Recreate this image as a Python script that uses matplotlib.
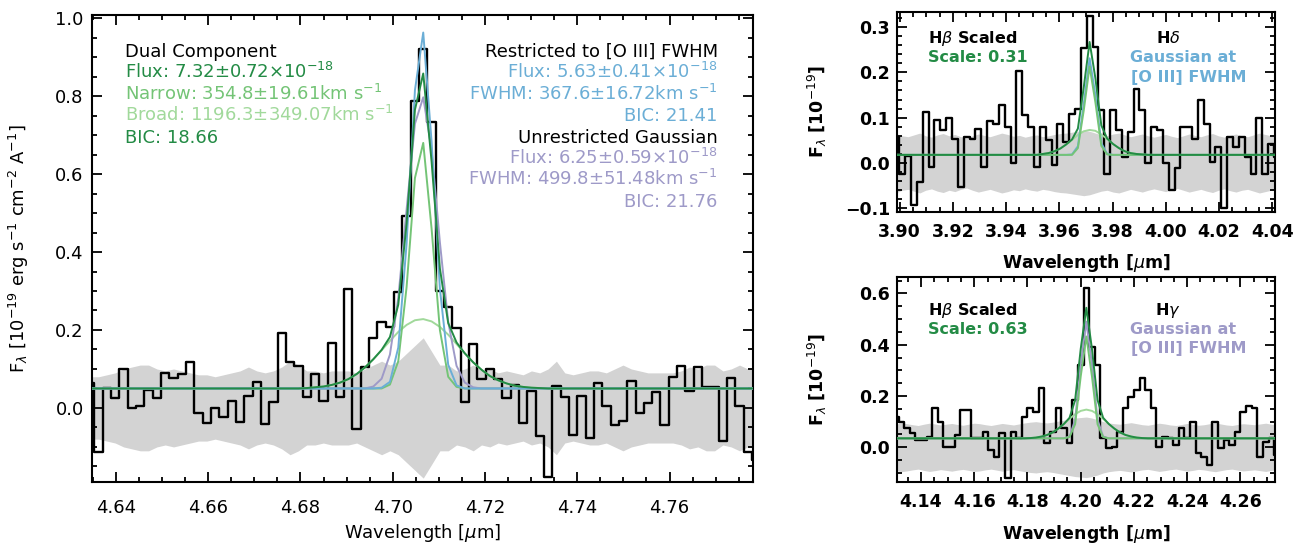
import numpy as np
import matplotlib.pyplot as plt
from matplotlib.ticker import MultipleLocator, FuncFormatter

# colours
c_dark = '#238b45'
c_mid = '#74c476'
c_light = '#a1d99b'
c_blue = '#6baed6'
c_purple = '#9e9ac8'
c_band = '#d3d3d3'

# ---------------- H-beta (left panel) ----------------
wave_hb = [4.63444, 4.63624, 4.63804, 4.63985, 4.64165, 4.64346, 4.64526, 4.64707, 4.64887, 4.65068,
           4.65248, 4.65428, 4.65609, 4.65789, 4.65970, 4.66150, 4.66331, 4.66511, 4.66691, 4.66872,
           4.67052, 4.67233, 4.67413, 4.67594, 4.67774, 4.67955, 4.68135, 4.68315, 4.68496, 4.68676,
           4.68857, 4.69037, 4.69218, 4.69398, 4.69579, 4.69759, 4.69939, 4.70120, 4.70300, 4.70481,
           4.70661, 4.70842, 4.71022, 4.71202, 4.71383, 4.71563, 4.71744, 4.71924, 4.72105, 4.72285,
           4.72466, 4.72646, 4.72826, 4.73007, 4.73187, 4.73368, 4.73548, 4.73729, 4.73909, 4.74090,
           4.74270, 4.74450, 4.74631, 4.74811, 4.74992, 4.75172, 4.75353, 4.75533, 4.75713, 4.75894,
           4.76074, 4.76255, 4.76435, 4.76616, 4.76796, 4.76977, 4.77157, 4.77337, 4.77518, 4.77698,
           4.77879]
flux_hb = [0.063, -0.112, 0.050, 0.026, 0.100, -0.001, 0.005, 0.046, 0.025, 0.090,
           0.078, 0.087, 0.119, -0.014, -0.038, -0.001, -0.024, 0.018, -0.035, 0.031,
           0.067, -0.042, 0.015, 0.193, 0.117, 0.108, 0.027, 0.087, 0.018, 0.167,
           0.028, 0.305, -0.055, 0.106, 0.179, 0.221, 0.208, 0.298, 0.492, 0.788,
           0.922, 0.734, 0.301, 0.260, 0.204, 0.015, 0.164, 0.074, 0.100, 0.074,
           0.025, 0.059, -0.039, 0.044, -0.071, -0.176, 0.057, 0.029, -0.069, 0.031,
           -0.076, 0.063, 0.005, -0.044, -0.033, 0.070, -0.012, 0.012, 0.042, -0.044,
           0.079, 0.108, 0.044, 0.105, 0.055, 0.053, -0.086, 0.076, 0.005, -0.112,
           -0.133]
err_hb = [0.080, 0.080, 0.085, 0.090, 0.100, 0.105, 0.110, 0.110, 0.100, 0.095,
          0.100, 0.095, 0.090, 0.085, 0.085, 0.080, 0.085, 0.090, 0.095, 0.105,
          0.095, 0.090, 0.095, 0.105, 0.120, 0.110, 0.095, 0.095, 0.090, 0.095,
          0.095, 0.095, 0.090, 0.100, 0.110, 0.120, 0.110, 0.120, 0.140, 0.160,
          0.180, 0.145, 0.110, 0.110, 0.095, 0.100, 0.110, 0.095, 0.100, 0.090,
          0.095, 0.090, 0.085, 0.095, 0.090, 0.100, 0.120, 0.090, 0.085, 0.090,
          0.095, 0.095, 0.090, 0.100, 0.110, 0.100, 0.095, 0.090, 0.090, 0.090,
          0.090, 0.095, 0.105, 0.100, 0.110, 0.110, 0.095, 0.100, 0.110, 0.100,
          0.100]
cont_hb = 0.05
win_hb = 25  # first array index where the fit curves leave the continuum list
dual_hb = [0.050, 0.051, 0.053, 0.055, 0.059, 0.065, 0.074, 0.087, 0.104, 0.125,
           0.149, 0.182, 0.265, 0.473, 0.765, 0.858, 0.632, 0.358, 0.218, 0.168,
           0.140, 0.117, 0.098, 0.082, 0.071, 0.063, 0.057, 0.054, 0.052, 0.051]
narrow_hb = [0.05] * 11 + [0.060, 0.120, 0.310, 0.590, 0.680, 0.460, 0.200, 0.080, 0.054] + [0.05] * 10
broad_hb = [0.050, 0.051, 0.053, 0.055, 0.059, 0.065, 0.074, 0.087, 0.104, 0.125,
            0.148, 0.172, 0.195, 0.213, 0.225, 0.228, 0.222, 0.208, 0.188, 0.164,
            0.140, 0.117, 0.098, 0.082, 0.071, 0.063, 0.057, 0.054, 0.052, 0.051]
restr_hb = [0.05] * 10 + [0.052, 0.067, 0.155, 0.421, 0.815, 0.963, 0.683, 0.306, 0.111, 0.058] + [0.05] * 10
unres_hb = [0.05] * 9 + [0.055, 0.075, 0.137, 0.282, 0.509, 0.729, 0.797, 0.662, 0.425, 0.221,
                         0.108, 0.065, 0.053] + [0.05] * 8

# ---------------- H-delta (top right) ----------------
wave_hd = [3.89875, 3.90095, 3.90315, 3.90535, 3.90755, 3.90975, 3.91195, 3.91415, 3.91635, 3.91855,
           3.92075, 3.92295, 3.92515, 3.92735, 3.92955, 3.93175, 3.93395, 3.93615, 3.93835, 3.94055,
           3.94275, 3.94495, 3.94715, 3.94935, 3.95155, 3.95375, 3.95595, 3.95815, 3.96035, 3.96255,
           3.96475, 3.96695, 3.96915, 3.97135, 3.97355, 3.97575, 3.97795, 3.98015, 3.98235, 3.98455,
           3.98675, 3.98895, 3.99115, 3.99335, 3.99555, 3.99775, 3.99995, 4.00215, 4.00435, 4.00655,
           4.00875, 4.01095, 4.01315, 4.01535, 4.01755, 4.01975, 4.02195, 4.02415, 4.02635, 4.02855,
           4.03075, 4.03295, 4.03515, 4.03735, 4.03955, 4.04175]
flux_hd = [0.057, -0.024, 0.015, -0.093, -0.042, 0.113, -0.009, 0.094, 0.072, 0.100,
           0.054, -0.053, 0.057, 0.052, 0.076, -0.009, 0.093, 0.087, 0.127, 0.079,
           -0.001, 0.202, 0.105, 0.080, -0.009, 0.080, 0.050, -0.005, 0.087, 0.046,
           0.109, 0.120, 0.254, 0.324, 0.256, 0.116, -0.024, 0.116, 0.072, 0.013,
           0.068, 0.164, 0.116, -0.001, 0.079, 0.072, 0.000, -0.060, -0.010, 0.079,
           0.080, 0.054, 0.138, 0.087, 0.002, 0.035, -0.100, 0.057, 0.035, 0.057,
           0.013, -0.024, 0.100, -0.024, 0.043, 0.013]
err_hd = [0.065, 0.060, 0.058, 0.062, 0.066, 0.060, 0.057, 0.062, 0.065, 0.060,
          0.063, 0.058, 0.055, 0.060, 0.064, 0.061, 0.058, 0.062, 0.066, 0.063,
          0.059, 0.061, 0.057, 0.060, 0.062, 0.058, 0.060, 0.063, 0.065, 0.066,
          0.068, 0.070, 0.072, 0.070, 0.066, 0.062, 0.060, 0.064, 0.066, 0.062,
          0.058, 0.061, 0.064, 0.060, 0.057, 0.060, 0.063, 0.059, 0.056, 0.060,
          0.064, 0.061, 0.058, 0.062, 0.065, 0.060, 0.057, 0.061, 0.064, 0.060,
          0.058, 0.062, 0.066, 0.063, 0.060, 0.060]
cont_hd = 0.018
win_hd = 25
dual_hd = [0.020, 0.022, 0.026, 0.032, 0.041, 0.052, 0.076, 0.167, 0.267, 0.186,
           0.083, 0.054, 0.042, 0.033, 0.026, 0.022, 0.020, 0.019]
narrow_hd = [0.018] * 6 + [0.033, 0.116, 0.213, 0.133, 0.038, 0.019] + [0.018] * 6
broad_hd = [0.020, 0.022, 0.026, 0.032, 0.041, 0.051, 0.062, 0.070, 0.073, 0.071,
            0.063, 0.053, 0.042, 0.033, 0.026, 0.022, 0.020, 0.019]
gauss_hd = [0.018] * 5 + [0.019, 0.037, 0.130, 0.231, 0.149, 0.044, 0.020] + [0.018] * 6
scale_hd = '0.31'
xticks_hd = [3.90, 3.92, 3.94, 3.96, 3.98, 4.00, 4.02, 4.04]
yticks_hd = [-0.1, 0.0, 0.1, 0.2, 0.3]

# ---------------- H-gamma (bottom right) ----------------
wave_hg = [4.13052, 4.13263, 4.13473, 4.13684, 4.13894, 4.14105, 4.14316, 4.14526, 4.14737, 4.14947,
           4.15158, 4.15369, 4.15579, 4.15790, 4.16000, 4.16211, 4.16422, 4.16632, 4.16843, 4.17053,
           4.17264, 4.17475, 4.17685, 4.17896, 4.18106, 4.18317, 4.18528, 4.18738, 4.18949, 4.19159,
           4.19370, 4.19581, 4.19791, 4.20002, 4.20212, 4.20423, 4.20634, 4.20844, 4.21055, 4.21265,
           4.21476, 4.21687, 4.21897, 4.22108, 4.22318, 4.22529, 4.22740, 4.22950, 4.23161, 4.23371,
           4.23582, 4.23793, 4.24003, 4.24214, 4.24424, 4.24635, 4.24846, 4.25056, 4.25267, 4.25477,
           4.25688, 4.25899, 4.26109, 4.26320, 4.26530, 4.26741, 4.26952, 4.27162, 4.27373]
flux_hg = [0.119, 0.100, 0.074, 0.055, 0.029, 0.029, 0.042, 0.155, 0.100, 0.003,
           0.003, 0.048, 0.145, 0.145, 0.035, 0.035, 0.061, -0.010, -0.036, 0.055,
           -0.121, 0.061, 0.035, 0.119, 0.152, 0.139, 0.230, 0.016, 0.061, 0.152,
           0.074, 0.016, 0.184, 0.321, 0.619, 0.392, 0.321, 0.035, -0.004, 0.003,
           0.061, 0.152, 0.197, 0.223, 0.269, 0.223, 0.152, 0.003, 0.042, 0.035,
           0.009, 0.074, 0.035, 0.100, -0.023, -0.036, -0.069, 0.100, -0.004, 0.029,
           0.009, 0.061, 0.139, 0.161, 0.152, -0.036, 0.022, 0.035, -0.030]
err_hg = [0.090, 0.095, 0.092, 0.088, 0.085, 0.090, 0.094, 0.091, 0.087, 0.090,
          0.093, 0.089, 0.086, 0.090, 0.094, 0.092, 0.088, 0.085, 0.089, 0.093,
          0.090, 0.087, 0.091, 0.095, 0.098, 0.100, 0.097, 0.095, 0.098, 0.102,
          0.106, 0.110, 0.114, 0.116, 0.118, 0.114, 0.108, 0.100, 0.095, 0.092,
          0.090, 0.093, 0.096, 0.092, 0.088, 0.086, 0.090, 0.094, 0.091, 0.087,
          0.085, 0.089, 0.093, 0.090, 0.086, 0.088, 0.092, 0.095, 0.091, 0.087,
          0.085, 0.089, 0.092, 0.090, 0.088, 0.091, 0.094, 0.090, 0.087]
cont_hg = 0.035
win_hg = 24
dual_hg = [0.036, 0.038, 0.042, 0.048, 0.058, 0.073, 0.091, 0.115, 0.184, 0.384,
           0.544, 0.384, 0.184, 0.115, 0.091, 0.073, 0.058, 0.048, 0.042, 0.038, 0.036]
narrow_hg = [0.035] * 7 + [0.040, 0.090, 0.277, 0.432, 0.277, 0.090, 0.040] + [0.035] * 7
broad_hg = [0.036, 0.038, 0.042, 0.048, 0.058, 0.073, 0.091, 0.111, 0.129, 0.142,
            0.147, 0.142, 0.129, 0.111, 0.091, 0.073, 0.058, 0.048, 0.042, 0.038, 0.036]
gauss_hg = [0.035] * 7 + [0.042, 0.107, 0.322, 0.490, 0.322, 0.107, 0.042] + [0.035] * 7
scale_hg = '0.63'
xticks_hg = [4.14, 4.16, 4.18, 4.20, 4.22, 4.24, 4.26]
yticks_hg = [0.0, 0.2, 0.4, 0.6]


def fit_curve(n, start, win, cont):
    y = np.full(n, cont)
    y[start:start + len(win)] = win
    return y


def fmt_minus(fmt, v):
    return (fmt % v).replace('-', '\u2212')


def style(ax, xmin, ymin, size, xpad, ypad):
    ax.xaxis.set_minor_locator(MultipleLocator(xmin))
    ax.yaxis.set_minor_locator(MultipleLocator(ymin))
    ax.tick_params(which='both', direction='in', top=True, right=True, width=1.3)
    ax.tick_params(which='major', length=7.5, labelsize=size)
    ax.tick_params(which='minor', length=3.8)
    ax.tick_params(axis='x', pad=xpad)
    ax.tick_params(axis='y', pad=ypad)
    for s in ax.spines.values():
        s.set_linewidth(1.5)


def draw_spec(ax, wave, flux, err, curves, cont, start):
    w = np.array(wave)
    e = np.array(err)
    ax.fill_between(w, -e, e, color=c_band, lw=0, zorder=1)
    ax.step(w, flux, where='mid', color='k', lw=1.7, zorder=2)
    for win, col in curves:
        ax.plot(w, fit_curve(len(w), start, win, cont), color=col, lw=1.4, zorder=3)


fig = plt.figure(figsize=(13.01, 5.48), dpi=100)

# left panel
ax = fig.add_axes([0.0707, 0.1204, 0.5081, 0.8522])
draw_spec(ax, wave_hb, flux_hb, err_hb,
          [(broad_hb, c_light), (narrow_hb, c_mid), (unres_hb, c_purple),
           (restr_hb, c_blue), (dual_hb, c_dark)], cont_hb, win_hb)
ax.xaxis.set_major_locator(MultipleLocator(0.02))
ax.yaxis.set_major_locator(MultipleLocator(0.2))
ax.xaxis.set_major_formatter(FuncFormatter(lambda v, p: fmt_minus('%.2f', v)))
ax.yaxis.set_major_formatter(FuncFormatter(lambda v, p: fmt_minus('%.1f', v)))
ax.set_xlim(4.6348, 4.7781)
ax.set_ylim(-0.19, 1.008)
style(ax, 0.005, 0.05, 13, 12, 6)
ax.set_xlabel(r'Wavelength [$\mu$m]', fontsize=13)
ax.set_ylabel(r'F$_\lambda$ [10$^{-19}$ erg s$^{-1}$ cm$^{-2}$ A$^{-1}$]', fontsize=13)
ax.xaxis.set_label_coords(0.5, -0.085)
ax.yaxis.set_label_coords(-0.092, 0.5)

left_lines = [('Dual Component', 'k'),
              (r'Flux: 7.32$\pm$0.72$\times$10$^{-18}$', c_dark),
              (r'Narrow: 354.8$\pm$19.61km s$^{-1}$', c_mid),
              (r'Broad: 1196.3$\pm$349.07km s$^{-1}$', c_light),
              ('BIC: 18.66', c_dark)]
right_lines = [('Restricted to [O III] FWHM', 'k'),
               (r'Flux: 5.63$\pm$0.41$\times$10$^{-18}$', c_blue),
               (r'FWHM: 367.6$\pm$16.72km s$^{-1}$', c_blue),
               ('BIC: 21.41', c_blue),
               ('Unrestricted Gaussian', 'k'),
               (r'Flux: 6.25$\pm$0.59$\times$10$^{-18}$', c_purple),
               (r'FWHM: 499.8$\pm$51.48km s$^{-1}$', c_purple),
               ('BIC: 21.76', c_purple)]
for i, (t, c) in enumerate(left_lines):
    ax.text(0.050, 0.911 - i * 0.046, t, color=c, fontsize=13, va='baseline', ha='left',
            transform=ax.transAxes)
for i, (t, c) in enumerate(right_lines):
    ax.text(0.9466, 0.911 - i * 0.046, t, color=c, fontsize=13, va='baseline', ha='right',
            transform=ax.transAxes)

# right panels
panels = [
    ([0.6895, 0.6131, 0.2905, 0.365], wave_hd, flux_hd, err_hd, dual_hd, narrow_hd, broad_hd,
     gauss_hd, c_blue, cont_hd, win_hd, (3.899, 4.041), (-0.108, 0.333), xticks_hd, yticks_hd,
     0.02, r'H$\delta$', scale_hd, (0.845, 0.748, 0.652)),
    ([0.6895, 0.1210, 0.2905, 0.3741], wave_hg, flux_hg, err_hg, dual_hg, narrow_hg, broad_hg,
     gauss_hg, c_purple, cont_hg, win_hg, (4.131, 4.273), (-0.134, 0.665), xticks_hg, yticks_hg,
     0.05, r'H$\gamma$', scale_hg, (0.812, 0.718, 0.628)),
]
for (pos, wave, flux, err, dual, narrow, broad, gauss, gcol, cont, start, xl, yl, xt, yt,
     ymin, name, scale, ys) in panels:
    ax = fig.add_axes(pos)
    draw_spec(ax, wave, flux, err,
              [(broad, c_light), (gauss, gcol), (narrow, c_mid), (dual, c_dark)], cont, start)
    ax.set_xticks(xt, [fmt_minus('%.2f', v) for v in xt], fontweight='bold')
    ax.set_yticks(yt, [fmt_minus('%.1f', v) for v in yt], fontweight='bold')
    ax.set_xlim(*xl)
    ax.set_ylim(*yl)
    style(ax, 0.005, ymin, 12.5, 8, 5)
    ax.set_xlabel(r'Wavelength [$\mu$m]', fontsize=12.5, fontweight='bold')
    ax.set_ylabel(r'F$_\lambda$ [10$^{-19}$]', fontsize=12.5, fontweight='bold')
    ax.xaxis.set_label_coords(0.5, -0.2)
    ax.yaxis.set_label_coords(-0.18, 0.5)
    ax.text(0.082, ys[0], r'H$\beta$ Scaled', color='k', fontsize=11.5, fontweight='bold',
            va='baseline', transform=ax.transAxes)
    ax.text(0.082, ys[1], 'Scale: ' + scale, color=c_dark, fontsize=11.5, fontweight='bold',
            va='baseline', transform=ax.transAxes)
    ax.text(0.717, ys[0], name, color='k', fontsize=11.5, fontweight='bold', ha='center',
            va='baseline', transform=ax.transAxes)
    ax.text(0.757, ys[1], 'Gaussian at', color=gcol, fontsize=11.5, fontweight='bold',
            ha='center', va='baseline', transform=ax.transAxes)
    ax.text(0.771, ys[2], '[O III] FWHM', color=gcol, fontsize=11.5, fontweight='bold',
            ha='center', va='baseline', transform=ax.transAxes)

fig.savefig('out.png', dpi=100)
